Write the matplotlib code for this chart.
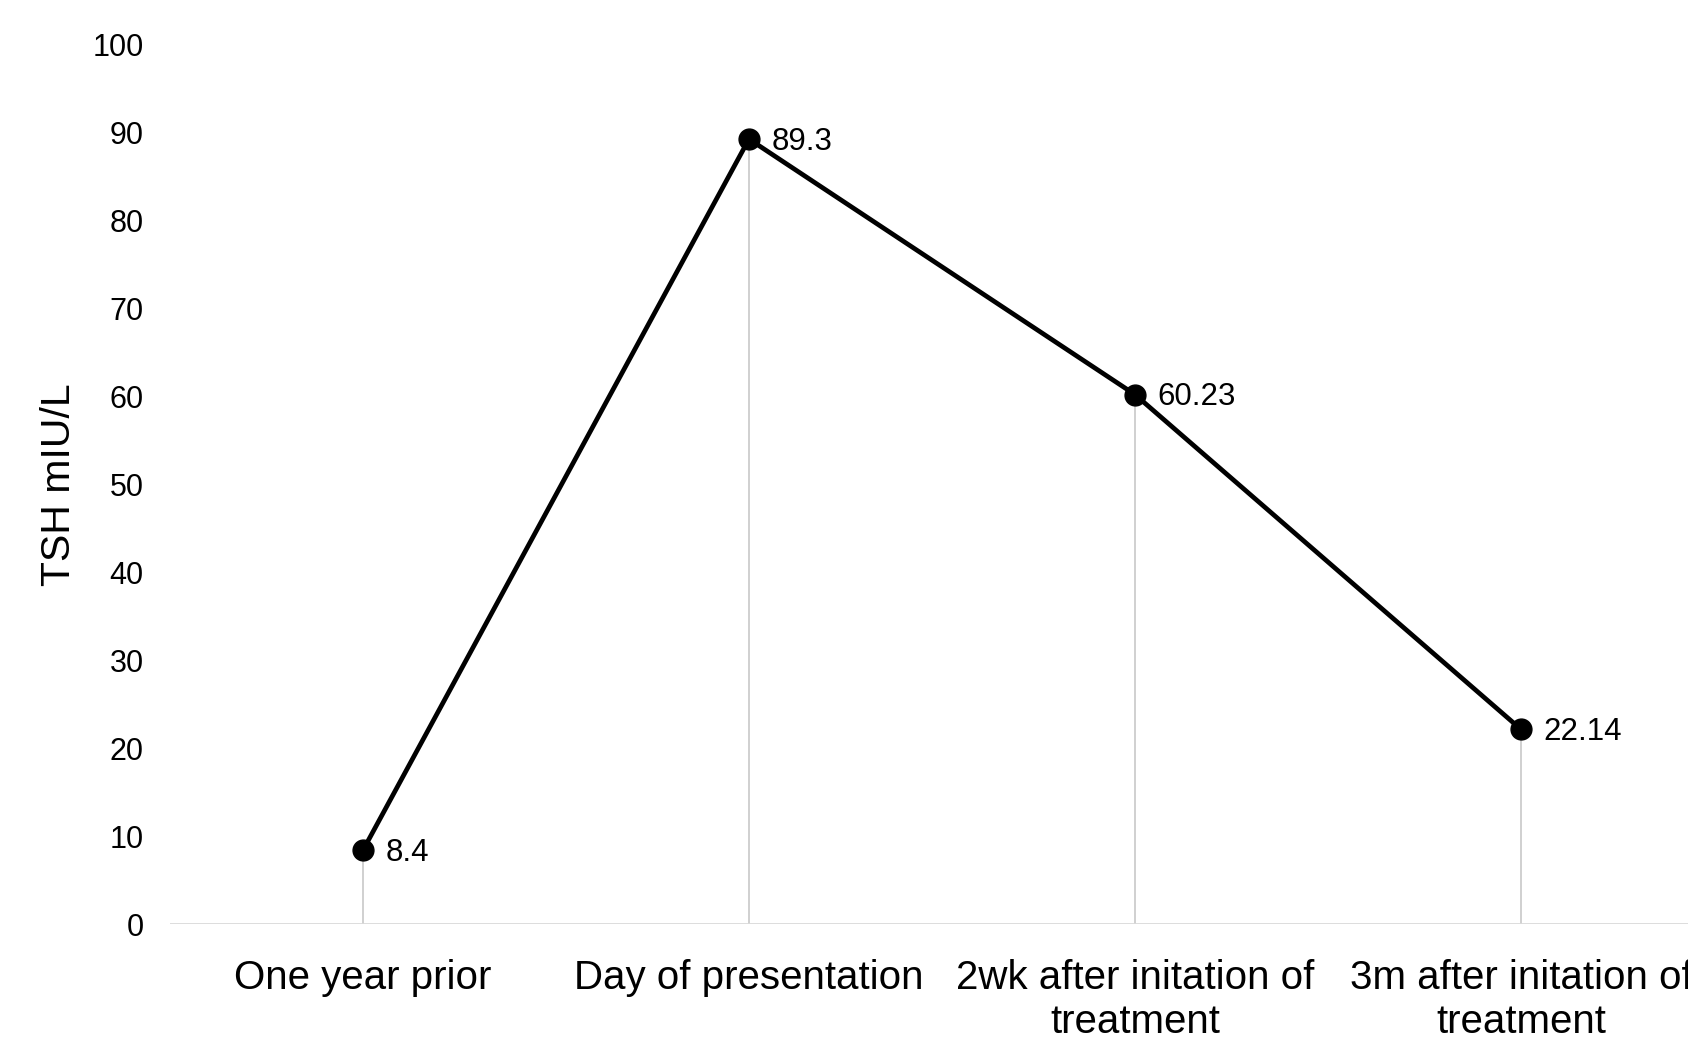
import matplotlib
matplotlib.use("Agg")
import matplotlib.pyplot as plt

categories = ["One year prior", "Day of presentation",
              "2wk after initation of\ntreatment", "3m after initation of\ntreatment"]
values = [8.4, 89.3, 60.23, 22.14]
value_labels = ["8.4", "89.3", "60.23", "22.14"]
yticks = [0, 10, 20, 30, 40, 50, 60, 70, 80, 90, 100]

plt.rcParams['font.family'] = ['Liberation Sans', 'DejaVu Sans']

W, H = 1688, 1042
fig = plt.figure(figsize=(W / 100, H / 100), dpi=100)
left, right, top, bottom = 170, 170 + 4 * 386, 45, 924
ax = fig.add_axes([left / W, 1 - bottom / H, (right - left) / W, (bottom - top) / H])

x = list(range(len(values)))
ax.vlines(x, 0, values, color='#c4c4c4', lw=1.1, zorder=1)
ax.axhline(0, color='#d9d9d9', lw=2, zorder=1)
ax.plot(x, values, color='black', lw=3.4, marker='o', markersize=15, zorder=3)
for xi, v, lab in zip(x, values, value_labels):
    ax.annotate(lab, (xi, v), xytext=(16, -2), textcoords='offset points',
                ha='left', va='center', fontsize=22.5, color='black')

ax.set_xlim(-0.5, 3.5)
ax.set_ylim(0, 100)
ax.set_yticks(yticks)
ax.set_yticklabels([str(t) for t in yticks], fontsize=22)
ax.set_xticks(x)
ax.set_xticklabels(categories, fontsize=29, linespacing=1.22)
ax.tick_params(axis='y', length=0, pad=19)
ax.tick_params(axis='x', length=0, pad=25)
for s in ax.spines.values():
    s.set_visible(False)
ax.set_ylabel("TSH mIU/L", fontsize=29.5)
ax.yaxis.set_label_coords(-(170 - 59) / (right - left), 0.5)
ax.yaxis.label.set_va('center')

fig.savefig("out.png", dpi=100)
